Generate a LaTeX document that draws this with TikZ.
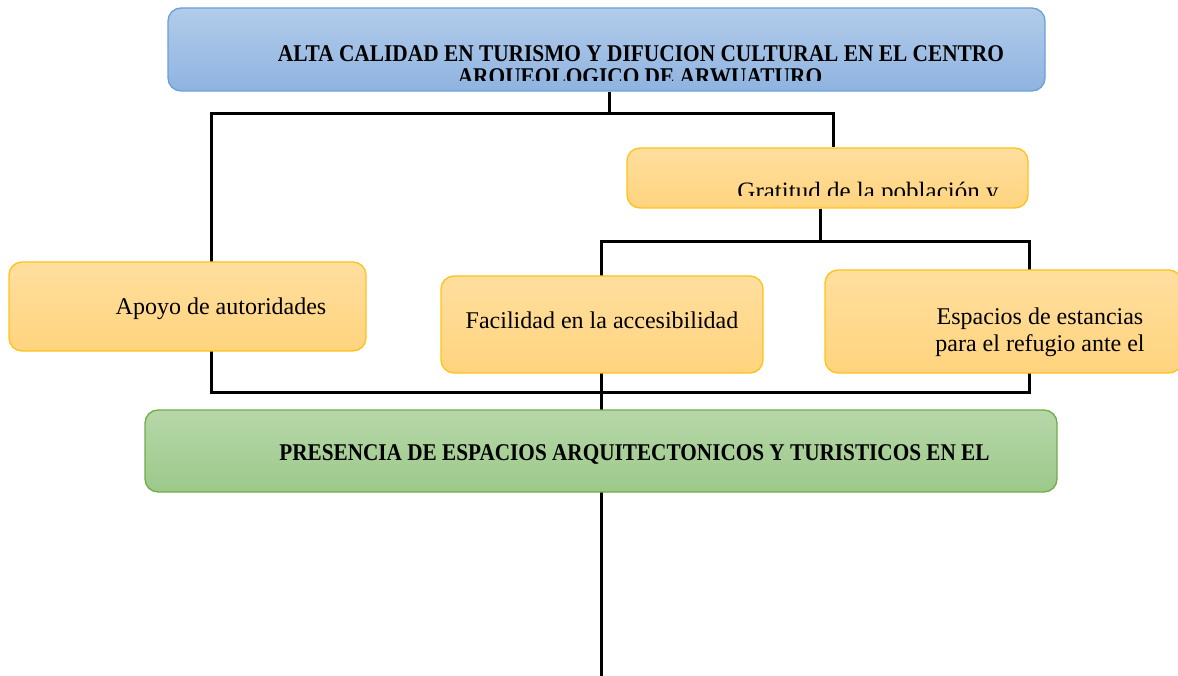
\documentclass[tikz,border=0pt]{standalone}
\usepackage{fontspec}
\setmainfont{Liberation Serif}
\usepackage{graphicx}
\usetikzlibrary{backgrounds}
\definecolor{orTop}{HTML}{FFDE9E}
\definecolor{orBot}{HTML}{FFD47E}
\definecolor{orLine}{HTML}{FFC21A}
\definecolor{blTop}{HTML}{B2CCEA}
\definecolor{blBot}{HTML}{8FB3E0}
\definecolor{blLine}{HTML}{6C9FD8}
\definecolor{grTop}{HTML}{B6D7A8}
\definecolor{grBot}{HTML}{9CC98A}
\definecolor{grLine}{HTML}{70AD47}
\begin{document}
\begin{tikzpicture}[x=1pt,y=-1pt,
  conn/.style={line width=3pt,black,line join=miter},
  boxbase/.style={rectangle,inner sep=0pt,line width=1.3pt,rounded corners=13pt},
  orangebox/.style={boxbase,draw=orLine,top color=orTop,bottom color=orBot},
  bluebox/.style={boxbase,draw=blLine,top color=blTop,bottom color=blBot},
  greenbox/.style={boxbase,draw=grLine,top color=grTop,bottom color=grBot},
  txt/.style={font=\fontsize{24}{28}\selectfont,anchor=base,inner sep=0pt},
  btxt/.style={font=\fontsize{24}{28}\selectfont\bfseries,anchor=base,inner sep=0pt}]
\useasboundingbox (0,0) rectangle (1178,676);
% junction coordinates
\coordinate (a1) at (609,114);
\coordinate (a2) at (211,114);
\coordinate (a3) at (833,114);
\coordinate (b1) at (820,242);
\coordinate (b2) at (601,242);
\coordinate (b3) at (1029,242);
\coordinate (c1) at (211,392);
\coordinate (c2) at (1029,392);
\coordinate (bot) at (601,680);
% boxes
\path (606.5,49.5) node[bluebox,minimum width=877pt,minimum height=83pt] (top) {};
\path (827.5,178) node[orangebox,minimum width=401pt,minimum height=60pt] (grat) {};
\path (187.5,306.5) node[orangebox,minimum width=357pt,minimum height=89pt] (apoyo) {};
\path (602,324.5) node[orangebox,minimum width=322pt,minimum height=97pt] (faci) {};
\path (1003.5,321.5) node[orangebox,minimum width=357pt,minimum height=103pt] (esp) {};
\path (601,451) node[greenbox,minimum width=912pt,minimum height=82pt] (pres) {};
% connectors behind the boxes
\begin{scope}[on background layer]
\draw[conn] (top.south -| a1) -- ([yshift=-1.5pt]a1);
\draw[conn] (grat.north -| a3) -- (a3) -- (a2) -- (c1) -- (c2) -- (b3) -- (b2) -- (bot);
\draw[conn] (grat.south -| b1) -- (b1);
\end{scope}
% texts
\node[btxt] (t1) at (641,61.5) {\scalebox{0.89}[1]{ALTA CALIDAD EN TURISMO Y DIFUCION CULTURAL EN EL CENTRO}};
\begin{scope}
\clip (168,8) rectangle (1045,80.5);
\node[btxt] (t2) at (640,85) {\scalebox{0.89}[1]{ARQUEOLOGICO DE ARWUATURO}};
\end{scope}
\begin{scope}
\clip (627,148) rectangle (1028,196);
\node[txt,font=\fontsize{25}{29}\selectfont] (t3) at (868,199.5) {Gratitud de la población y};
\end{scope}
\node[txt] (t4) at (221,315) {Apoyo de autoridades};
\node[txt] (t5) at (602,329) {Facilidad en la accesibilidad};
\node[txt] (t6) at (1040,324) {Espacios de estancias};
\node[txt] (t7) at (1040,351) {para el refugio ante el};
\node[btxt] (t8) at (634.5,460) {\scalebox{0.885}[1]{PRESENCIA DE ESPACIOS ARQUITECTONICOS Y TURISTICOS EN EL}};
\end{tikzpicture}
\end{document}
